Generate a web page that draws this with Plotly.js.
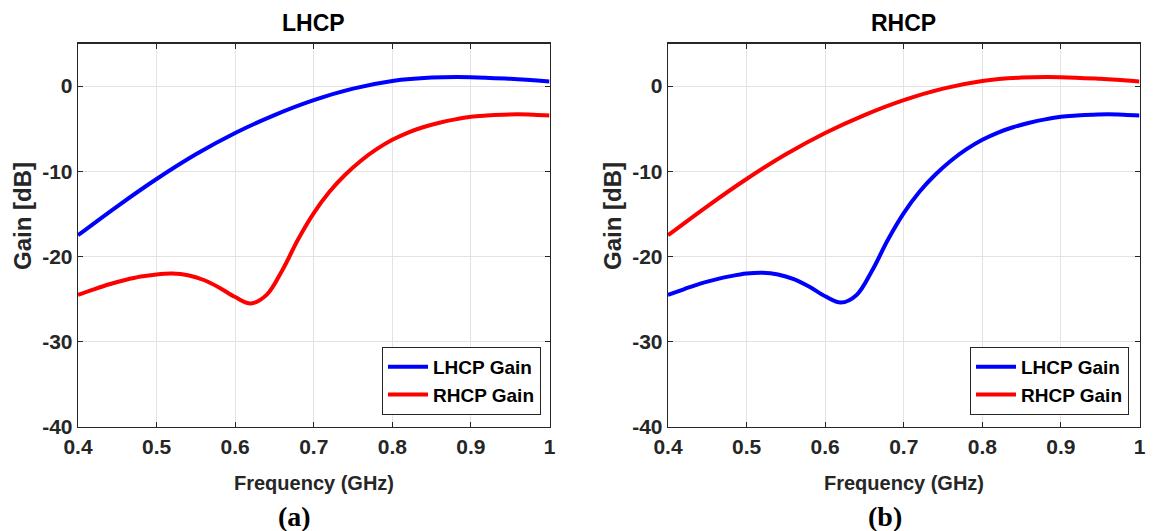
<!DOCTYPE html>
<html>
<head>
<meta charset="utf-8">
<script src="https://cdn.plot.ly/plotly-3.0.1.min.js"></script>
<style>html,body{margin:0;padding:0;background:#fff;}#chart{width:1156px;height:531px;}</style>
</head>
<body>
<div id="chart"></div>
<script>
// ---- Data ----
// Panel (a) "LHCP"
const freqLhcpA = [0.40, 0.45, 0.50, 0.55, 0.60, 0.65, 0.70, 0.75, 0.80, 0.85, 0.90, 0.95, 1.00];
const gainLhcpA = [-17.5, -14.1, -10.9, -8.0, -5.5, -3.4, -1.65, -0.3, 0.6, 1.0, 1.05, 0.85, 0.55];
const freqRhcpA = [0.40, 0.42, 0.44, 0.46, 0.48, 0.50, 0.52, 0.54, 0.56, 0.58, 0.60, 0.62, 0.64, 0.66, 0.68, 0.70, 0.72, 0.74, 0.76, 0.78, 0.80, 0.82, 0.84, 0.86, 0.88, 0.90, 0.92, 0.94, 0.96, 0.98, 1.00];
const gainRhcpA = [-24.5, -23.85, -23.25, -22.75, -22.35, -22.1, -22.0, -22.2, -22.75, -23.65, -24.75, -25.5, -24.5, -21.6, -18.0, -14.9, -12.4, -10.4, -8.75, -7.4, -6.3, -5.45, -4.8, -4.3, -3.9, -3.6, -3.45, -3.35, -3.3, -3.35, -3.45];
// Panel (b) "RHCP"
const freqLhcpB = [0.40, 0.42, 0.44, 0.46, 0.48, 0.50, 0.52, 0.54, 0.56, 0.58, 0.60, 0.62, 0.64, 0.66, 0.68, 0.70, 0.72, 0.74, 0.76, 0.78, 0.80, 0.82, 0.84, 0.86, 0.88, 0.90, 0.92, 0.94, 0.96, 0.98, 1.00];
const gainLhcpB = [-24.5, -23.85, -23.2, -22.7, -22.3, -22.0, -21.9, -22.1, -22.65, -23.55, -24.65, -25.4, -24.5, -21.6, -18.0, -14.9, -12.4, -10.4, -8.75, -7.4, -6.3, -5.45, -4.8, -4.3, -3.9, -3.6, -3.45, -3.35, -3.3, -3.35, -3.45];
const freqRhcpB = [0.40, 0.45, 0.50, 0.55, 0.60, 0.65, 0.70, 0.75, 0.80, 0.85, 0.90, 0.95, 1.00];
const gainRhcpB = [-17.5, -14.1, -10.9, -8.0, -5.5, -3.4, -1.65, -0.3, 0.6, 1.0, 1.05, 0.85, 0.55];

const panelTitles = ['LHCP', 'RHCP'];
const panelLabels = ['(a)', '(b)'];
const seriesNames = ['LHCP Gain', 'RHCP Gain'];
const xTickVals = [0.4, 0.5, 0.6, 0.7, 0.8, 0.9, 1.0];
const xTickText = ['0.4', '0.5', '0.6', '0.7', '0.8', '0.9', '1'];
const yTickVals = [-40, -30, -20, -10, 0];
const yTickText = ['-40', '-30', '-20', '-10', '0'];
const xAxisTitle = 'Frequency (GHz)';
const yAxisTitle = 'Gain [dB]';

// ---- Styling ----
const W = 1156, H = 531;
const SANS = 'Liberation Sans, Arial, Helvetica, sans-serif';
const SERIF = 'Liberation Serif, Times New Roman, serif';
const DARK = '#262626';
const BLUE = '#0000ff', RED = '#ff0000';

const xDomA = [78 / W, 549.5 / W];
const xDomB = [668 / W, 1139.5 / W];
const yDom = [(H - 427) / H, (H - 43.5) / H];

function lineTrace(x, y, name, color, xa, ya, legend) {
  return {
    x: x, y: y, name: name, type: 'scatter', mode: 'lines',
    line: {color: color, width: 4, shape: 'spline', smoothing: 1},
    xaxis: xa, yaxis: ya, legend: legend
  };
}

const data = [
  lineTrace(freqLhcpA, gainLhcpA, seriesNames[0], BLUE, 'x', 'y', 'legend'),
  lineTrace(freqRhcpA, gainRhcpA, seriesNames[1], RED, 'x', 'y', 'legend'),
  lineTrace(freqLhcpB, gainLhcpB, seriesNames[0], BLUE, 'x2', 'y2', 'legend2'),
  lineTrace(freqRhcpB, gainRhcpB, seriesNames[1], RED, 'x2', 'y2', 'legend2')
];

function xAxis(domain, anchor) {
  return {
    domain: domain, anchor: anchor, range: [0.4, 1.0],
    tickmode: 'array', tickvals: xTickVals, ticktext: xTickText,
    showgrid: true, gridcolor: '#e3e3e3', gridwidth: 1,
    showline: true, linecolor: DARK, linewidth: 1.3, mirror: 'ticks',
    ticks: 'inside', ticklen: 5, tickcolor: DARK, tickwidth: 1,
    zeroline: false, fixedrange: true,
    tickfont: {family: SANS, size: 21, color: DARK, weight: 'bold'}
  };
}
function yAxis(anchor) {
  return {
    domain: yDom, anchor: anchor, range: [-40, 5],
    tickmode: 'array', tickvals: yTickVals, ticktext: yTickText,
    showgrid: true, gridcolor: '#e3e3e3', gridwidth: 1,
    showline: true, linecolor: DARK, linewidth: 1.3, mirror: 'ticks',
    ticks: 'inside', ticklen: 5, tickcolor: DARK, tickwidth: 1,
    zeroline: false, fixedrange: true,
    tickfont: {family: SANS, size: 21, color: DARK, weight: 'bold'}
  };
}

function legendCfg(xRight) {
  return {
    x: xRight, y: (H - 415) / H, xanchor: 'right', yanchor: 'bottom',
    xref: 'paper', yref: 'paper',
    bgcolor: '#ffffff', bordercolor: DARK, borderwidth: 1,
    font: {family: SANS, size: 19, color: '#000000', weight: 'bold'},
    itemwidth: 40, tracegroupgap: 0
  };
}

const annotations = [];
[[xDomA, 0], [xDomB, 1]].forEach(([dom, i]) => {
  const cx = (dom[0] + dom[1]) / 2;
  annotations.push({text: panelTitles[i], x: cx, y: (H - 23) / H, xref: 'paper', yref: 'paper',
    showarrow: false, xanchor: 'center', yanchor: 'middle',
    font: {family: SANS, size: 23, color: '#000000', weight: 'bold'}});
  annotations.push({text: xAxisTitle, x: cx, y: (H - 483) / H, xref: 'paper', yref: 'paper',
    showarrow: false, xanchor: 'center', yanchor: 'middle',
    font: {family: SANS, size: 20, color: DARK, weight: 'bold'}});
  annotations.push({text: yAxisTitle, x: (dom[0] * W - 56) / W, y: (H - 216) / H, xref: 'paper', yref: 'paper',
    showarrow: false, xanchor: 'center', yanchor: 'middle', textangle: -90,
    font: {family: SANS, size: 24, color: DARK, weight: 'bold'}});
  annotations.push({text: '<b>' + panelLabels[i] + '</b>', x: cx - 19 / W, y: (H - 516) / H, xref: 'paper', yref: 'paper',
    showarrow: false, xanchor: 'center', yanchor: 'middle',
    font: {family: SERIF, size: 28, color: '#000000'}});
});

const layout = {
  width: W, height: H, autosize: false,
  margin: {l: 0, r: 0, t: 0, b: 0, pad: 0},
  paper_bgcolor: '#ffffff', plot_bgcolor: '#ffffff',
  showlegend: true,
  xaxis: xAxis(xDomA, 'y'), yaxis: yAxis('x'),
  xaxis2: xAxis(xDomB, 'y2'), yaxis2: yAxis('x2'),
  legend: legendCfg(541 / W),
  legend2: legendCfg(1129 / W),
  annotations: annotations
};

Plotly.newPlot('chart', data, layout, {staticPlot: true, displayModeBar: false});
</script>
</body>
</html>
